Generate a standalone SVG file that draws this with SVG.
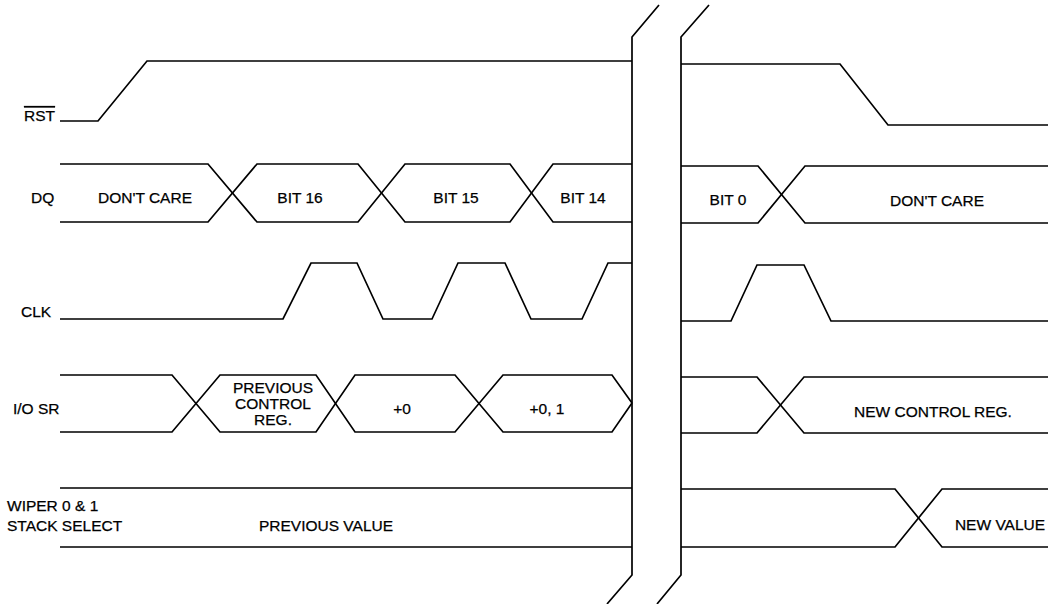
<svg xmlns="http://www.w3.org/2000/svg" width="1058" height="604" viewBox="0 0 1058 604">
<style>
.w{fill:none;stroke:#000;stroke-width:1.7;stroke-linejoin:miter}
text{font-family:"Liberation Sans",Arial,sans-serif;font-size:15.5px;fill:#000;stroke:#000;stroke-width:0.25}
.c{text-anchor:middle}
</style>
<rect width="1058" height="604" fill="#fff"/>
<g id="labels">
<text x="24" y="121" text-decoration="overline">RST</text>
<text x="31" y="203">DQ</text>
<text x="21" y="317">CLK</text>
<text x="13" y="414">I/O SR</text>
<text x="7" y="511">WIPER 0 &amp; 1</text>
<text x="7" y="531">STACK SELECT</text>
</g>
<g id="connectors">
<g id="rst">
<path class="w" d="M60,121 H98 L147,61 H632"/>
<path class="w" d="M681,64 H840 L888,125 H1048"/>
</g>
<g id="dq">
<path class="w" d="M60,164 H208 L257,222 H358 L405,164 H510 L553,222 H632"/>
<path class="w" d="M60,222 H208 L257,164 H358 L405,222 H510 L553,164 H632"/>
<path class="w" d="M681,166 H758 L805,223 H1048"/>
<path class="w" d="M681,223 H758 L805,166 H1048"/>
</g>
<g id="clk">
<path class="w" d="M60,319 H283 L311,263 H357 L383,319 H432 L458,263 H505 L531,319 H582 L608,263 H632"/>
<path class="w" d="M681,321 H731 L757,265 H804 L831,321 H1048"/>
</g>
<g id="iosr">
<path class="w" d="M60,375 H172 L220,432 H316 L355,375 H455 L503,432 H612 L632,403"/>
<path class="w" d="M60,432 H172 L220,375 H316 L355,432 H455 L503,375 H612 L632,403"/>
<path class="w" d="M681,377 H757 L804,433 H1048"/>
<path class="w" d="M681,433 H757 L804,377 H1048"/>
</g>
<g id="wiper">
<path class="w" d="M60,488 H632 M60,547 H632"/>
<path class="w" d="M681,489 H895 L942,547 H1048"/>
<path class="w" d="M681,547 H895 L942,489 H1048"/>
</g>
<g id="break">
<path class="w" d="M659,5 L632,37 V575 L607,604"/>
<path class="w" d="M709,5 L681,37 V575 L657,604"/>
</g>
</g>
<g id="values">
<text class="c" x="145" y="203">DON'T CARE</text>
<text class="c" x="300" y="203">BIT 16</text>
<text class="c" x="456" y="203">BIT 15</text>
<text class="c" x="583" y="203">BIT 14</text>
<text class="c" x="728" y="205">BIT 0</text>
<text class="c" x="937" y="206">DON'T CARE</text>
<text class="c" x="273" y="393">PREVIOUS</text>
<text class="c" x="273" y="409">CONTROL</text>
<text class="c" x="273" y="425">REG.</text>
<text class="c" x="402" y="414">+0</text>
<text class="c" x="547" y="414">+0, 1</text>
<text class="c" x="933" y="417">NEW CONTROL REG.</text>
<text class="c" x="326" y="531">PREVIOUS VALUE</text>
<text class="c" x="1000" y="530">NEW VALUE</text>
</g>
</svg>
